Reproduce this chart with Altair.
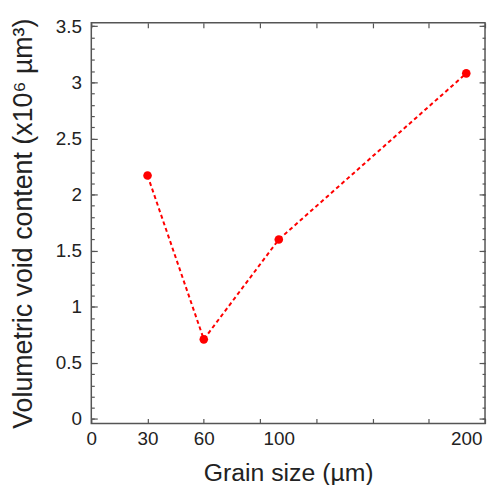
import altair as alt
import pandas as pd

grain = [30, 60, 100, 200]
void = [2.17, 0.71, 1.60, 3.08]
x_ticks = [0, 30, 60, 90, 120, 150, 180, 210]
x_labels = [0, 30, 60, 100, 200]
y_major = [0, 0.5, 1, 1.5, 2, 2.5, 3, 3.5]
y_minor = [round(i * 0.1, 1) for i in range(36)]

df = pd.DataFrame({"g": grain, "v": void})

xs = alt.Scale(domain=[0, 210], nice=False, zero=False)
ys = alt.Scale(domain=[-0.04, 3.53], nice=False, zero=False)

FONT = "Liberation Sans"
TICKC = "#555555"
LABC = "#222222"
MAJ = 6
MIN = 3
XT = 5

common = dict(grid=False, domain=False, tickColor=TICKC, tickWidth=1.2,
              labelFont=FONT, labelFontSize=19, labelColor=LABC,
              labelOverlap=False, labelFlush=False,
              titleFont=FONT, titleColor=LABC, titleFontWeight="normal")

x_bottom = alt.Axis(orient="bottom", values=x_ticks + [100, 200], offset=-XT, tickSize=XT,
                    labelExpr=f"indexof({x_labels}, datum.value) >= 0 ? datum.label : ''",
                    tickOpacity={"condition": {"test": f"indexof({x_ticks}, datum.value) >= 0", "value": 1}, "value": 0},
                    labelPadding=6, title="Grain size (\u00b5m)", titleFontSize=25, titlePadding=12,
                    **common)
x_top = alt.Axis(orient="top", values=x_ticks, labels=False, title=None,
                 offset=-XT, tickSize=XT, **common)
y_left = alt.Axis(orient="left", values=y_major, offset=-MAJ, tickSize=MAJ,
                  labelExpr="'' + datum.value",
                  labelPadding=10, title="Volumetric void content (x10\u2076 \u00b5m\u00b3)",
                  titleFontSize=27, titlePadding=18, **common)
y_right = alt.Axis(orient="right", values=y_major, labels=False, title=None,
                   offset=-MAJ, tickSize=MAJ, **common)
y_left_minor = alt.Axis(orient="left", values=y_minor, labels=False, title=None,
                        offset=-MIN, tickSize=MIN, **common)
y_right_minor = alt.Axis(orient="right", values=y_minor, labels=False, title=None,
                         offset=-MIN, tickSize=MIN, **common)

base = alt.Chart(df)
line = base.mark_line(color="#ff0000", strokeWidth=2, strokeDash=[4, 3]).encode(
    x=alt.X("g:Q", scale=xs, axis=x_bottom),
    y=alt.Y("v:Q", scale=ys, axis=y_left),
)
pts = base.mark_point(filled=True, color="#ff0000", size=75, opacity=1).encode(
    x=alt.X("g:Q", scale=xs, axis=x_top),
    y=alt.Y("v:Q", scale=ys, axis=y_right),
)
minor_l = base.mark_point(opacity=0).encode(
    x=alt.X("g:Q", scale=xs, axis=None),
    y=alt.Y("v:Q", scale=ys, axis=y_left_minor),
)
minor_r = base.mark_point(opacity=0).encode(
    x=alt.X("g:Q", scale=xs, axis=None),
    y=alt.Y("v:Q", scale=ys, axis=y_right_minor),
)

chart = alt.layer(line, pts, minor_l, minor_r).resolve_scale(
    x="independent", y="independent"
).resolve_axis(
    x="independent", y="independent"
).properties(
    width=397, height=404,
    autosize=alt.AutoSizeParams(type="none"),
    padding={"left": 84, "top": 13, "right": 2, "bottom": 60},
).configure_view(stroke="#555555", strokeWidth=1.5)

chart.save("out.html", embed_options={"renderer": "svg", "actions": False})
